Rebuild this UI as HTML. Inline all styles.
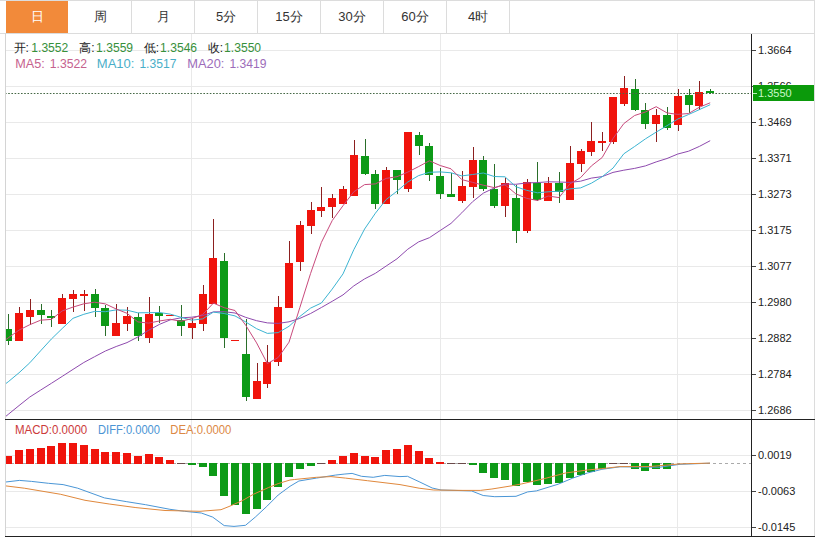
<!DOCTYPE html>
<html><head><meta charset="utf-8"><style>
html,body{margin:0;padding:0;background:#fff;width:824px;height:538px;overflow:hidden}
svg{display:block;font-family:"Liberation Sans",sans-serif}
.ax{font-size:11px;fill:#222}
.lg{font-size:12px}
.tb{font-size:13px}
</style></head><body>
<svg width="824" height="538" viewBox="0 0 824 538" shape-rendering="crispEdges">
<defs><clipPath id="cm"><rect x="6" y="34" width="745" height="385"/></clipPath><clipPath id="cd"><rect x="6" y="420" width="745" height="116"/></clipPath></defs>
<rect x="0" y="0" width="815" height="1" fill="#dcdcdc"/>
<rect x="0" y="33" width="815" height="1" fill="#dcdcdc"/>
<rect x="6" y="1" width="62" height="32" fill="#f28a3a"/>
<text x="37" y="20.5" class="tb" text-anchor="middle" fill="#fff">日</text>
<rect x="131" y="1" width="1" height="32" fill="#dcdcdc"/>
<text x="100" y="20.5" class="tb" text-anchor="middle" fill="#333">周</text>
<rect x="194" y="1" width="1" height="32" fill="#dcdcdc"/>
<text x="163" y="20.5" class="tb" text-anchor="middle" fill="#333">月</text>
<rect x="257" y="1" width="1" height="32" fill="#dcdcdc"/>
<text x="226" y="20.5" class="tb" text-anchor="middle" fill="#333">5分</text>
<rect x="320" y="1" width="1" height="32" fill="#dcdcdc"/>
<text x="289" y="20.5" class="tb" text-anchor="middle" fill="#333">15分</text>
<rect x="383" y="1" width="1" height="32" fill="#dcdcdc"/>
<text x="352" y="20.5" class="tb" text-anchor="middle" fill="#333">30分</text>
<rect x="446" y="1" width="1" height="32" fill="#dcdcdc"/>
<text x="415" y="20.5" class="tb" text-anchor="middle" fill="#333">60分</text>
<rect x="509" y="1" width="1" height="32" fill="#dcdcdc"/>
<text x="478" y="20.5" class="tb" text-anchor="middle" fill="#333">4时</text>
<rect x="131" y="1" width="1" height="32" fill="#dcdcdc"/>
<rect x="5" y="50" width="746" height="1" fill="#e9e9e9"/>
<rect x="5" y="86" width="746" height="1" fill="#e9e9e9"/>
<rect x="5" y="122" width="746" height="1" fill="#e9e9e9"/>
<rect x="5" y="158" width="746" height="1" fill="#e9e9e9"/>
<rect x="5" y="194" width="746" height="1" fill="#e9e9e9"/>
<rect x="5" y="230" width="746" height="1" fill="#e9e9e9"/>
<rect x="5" y="266" width="746" height="1" fill="#e9e9e9"/>
<rect x="5" y="302" width="746" height="1" fill="#e9e9e9"/>
<rect x="5" y="338" width="746" height="1" fill="#e9e9e9"/>
<rect x="5" y="374" width="746" height="1" fill="#e9e9e9"/>
<rect x="5" y="410" width="746" height="1" fill="#e9e9e9"/>
<rect x="5" y="455" width="746" height="1" fill="#e9e9e9"/>
<rect x="5" y="491" width="746" height="1" fill="#e9e9e9"/>
<rect x="5" y="527" width="746" height="1" fill="#e9e9e9"/>
<rect x="191" y="34" width="1" height="502" fill="#e9e9e9"/>
<rect x="440" y="34" width="1" height="502" fill="#e9e9e9"/>
<rect x="677" y="34" width="1" height="502" fill="#e9e9e9"/>
<g clip-path="url(#cm)">
<rect x="8" y="314" width="1" height="15" fill="#2a6e2a"/>
<rect x="8" y="341" width="1" height="4" fill="#2a6e2a"/>
<rect x="4" y="329" width="8" height="12" fill="#0d9a17"/>
<rect x="19" y="307" width="1" height="6" fill="#8c1f1f"/>
<rect x="15" y="313" width="8" height="28" fill="#f0140c"/>
<rect x="30" y="299" width="1" height="11" fill="#8c1f1f"/>
<rect x="30" y="317" width="1" height="8" fill="#8c1f1f"/>
<rect x="26" y="310" width="8" height="7" fill="#f0140c"/>
<rect x="41" y="304" width="1" height="6" fill="#2a6e2a"/>
<rect x="41" y="315" width="1" height="9" fill="#2a6e2a"/>
<rect x="37" y="310" width="8" height="5" fill="#0d9a17"/>
<rect x="51" y="310" width="1" height="6" fill="#2a6e2a"/>
<rect x="51" y="318" width="1" height="9" fill="#2a6e2a"/>
<rect x="47" y="316" width="8" height="2" fill="#0d9a17"/>
<rect x="62" y="294" width="1" height="4" fill="#8c1f1f"/>
<rect x="58" y="298" width="8" height="26" fill="#f0140c"/>
<rect x="73" y="290" width="1" height="4" fill="#8c1f1f"/>
<rect x="73" y="299" width="1" height="13" fill="#8c1f1f"/>
<rect x="69" y="294" width="8" height="5" fill="#f0140c"/>
<rect x="84" y="290" width="1" height="4" fill="#8c1f1f"/>
<rect x="84" y="296" width="1" height="15" fill="#8c1f1f"/>
<rect x="80" y="294" width="8" height="2" fill="#f0140c"/>
<rect x="95" y="289" width="1" height="5" fill="#2a6e2a"/>
<rect x="95" y="308" width="1" height="9" fill="#2a6e2a"/>
<rect x="91" y="294" width="8" height="14" fill="#0d9a17"/>
<rect x="105" y="305" width="1" height="3" fill="#2a6e2a"/>
<rect x="105" y="326" width="1" height="10" fill="#2a6e2a"/>
<rect x="101" y="308" width="8" height="18" fill="#0d9a17"/>
<rect x="116" y="304" width="1" height="19" fill="#8c1f1f"/>
<rect x="112" y="323" width="8" height="13" fill="#f0140c"/>
<rect x="127" y="307" width="1" height="9" fill="#8c1f1f"/>
<rect x="127" y="324" width="1" height="7" fill="#8c1f1f"/>
<rect x="123" y="316" width="8" height="8" fill="#f0140c"/>
<rect x="138" y="313" width="1" height="4" fill="#2a6e2a"/>
<rect x="138" y="336" width="1" height="5" fill="#2a6e2a"/>
<rect x="134" y="317" width="8" height="19" fill="#0d9a17"/>
<rect x="149" y="297" width="1" height="17" fill="#8c1f1f"/>
<rect x="149" y="338" width="1" height="5" fill="#8c1f1f"/>
<rect x="145" y="314" width="8" height="24" fill="#f0140c"/>
<rect x="159" y="306" width="1" height="7" fill="#2a6e2a"/>
<rect x="159" y="316" width="1" height="7" fill="#2a6e2a"/>
<rect x="155" y="313" width="8" height="3" fill="#0d9a17"/>
<rect x="166" y="315" width="8" height="1" fill="#f0140c"/>
<rect x="181" y="305" width="1" height="15" fill="#2a6e2a"/>
<rect x="181" y="326" width="1" height="10" fill="#2a6e2a"/>
<rect x="177" y="320" width="8" height="6" fill="#0d9a17"/>
<rect x="192" y="318" width="1" height="5" fill="#8c1f1f"/>
<rect x="192" y="328" width="1" height="11" fill="#8c1f1f"/>
<rect x="188" y="323" width="8" height="5" fill="#f0140c"/>
<rect x="203" y="285" width="1" height="9" fill="#8c1f1f"/>
<rect x="203" y="324" width="1" height="7" fill="#8c1f1f"/>
<rect x="199" y="294" width="8" height="30" fill="#f0140c"/>
<rect x="213" y="219" width="1" height="39" fill="#8c1f1f"/>
<rect x="209" y="258" width="8" height="46" fill="#f0140c"/>
<rect x="224" y="253" width="1" height="8" fill="#2a6e2a"/>
<rect x="224" y="338" width="1" height="10" fill="#2a6e2a"/>
<rect x="220" y="261" width="8" height="77" fill="#0d9a17"/>
<rect x="231" y="340" width="8" height="1" fill="#f0140c"/>
<rect x="246" y="319" width="1" height="35" fill="#2a6e2a"/>
<rect x="246" y="397" width="1" height="4" fill="#2a6e2a"/>
<rect x="242" y="354" width="8" height="43" fill="#0d9a17"/>
<rect x="257" y="363" width="1" height="18" fill="#8c1f1f"/>
<rect x="253" y="381" width="8" height="18" fill="#f0140c"/>
<rect x="267" y="345" width="1" height="17" fill="#8c1f1f"/>
<rect x="267" y="384" width="1" height="4" fill="#8c1f1f"/>
<rect x="263" y="362" width="8" height="22" fill="#f0140c"/>
<rect x="278" y="296" width="1" height="11" fill="#8c1f1f"/>
<rect x="278" y="362" width="1" height="4" fill="#8c1f1f"/>
<rect x="274" y="307" width="8" height="55" fill="#f0140c"/>
<rect x="289" y="241" width="1" height="22" fill="#8c1f1f"/>
<rect x="285" y="263" width="8" height="45" fill="#f0140c"/>
<rect x="300" y="221" width="1" height="4" fill="#8c1f1f"/>
<rect x="300" y="262" width="1" height="9" fill="#8c1f1f"/>
<rect x="296" y="225" width="8" height="37" fill="#f0140c"/>
<rect x="311" y="202" width="1" height="8" fill="#8c1f1f"/>
<rect x="311" y="226" width="1" height="8" fill="#8c1f1f"/>
<rect x="307" y="210" width="8" height="16" fill="#f0140c"/>
<rect x="321" y="187" width="1" height="20" fill="#8c1f1f"/>
<rect x="321" y="211" width="1" height="6" fill="#8c1f1f"/>
<rect x="317" y="207" width="8" height="4" fill="#f0140c"/>
<rect x="332" y="194" width="1" height="4" fill="#8c1f1f"/>
<rect x="332" y="207" width="1" height="11" fill="#8c1f1f"/>
<rect x="328" y="198" width="8" height="9" fill="#f0140c"/>
<rect x="343" y="186" width="1" height="3" fill="#8c1f1f"/>
<rect x="339" y="189" width="8" height="15" fill="#f0140c"/>
<rect x="354" y="140" width="1" height="15" fill="#8c1f1f"/>
<rect x="350" y="155" width="8" height="41" fill="#f0140c"/>
<rect x="365" y="139" width="1" height="17" fill="#2a6e2a"/>
<rect x="365" y="174" width="1" height="1" fill="#2a6e2a"/>
<rect x="361" y="156" width="8" height="18" fill="#0d9a17"/>
<rect x="375" y="170" width="1" height="4" fill="#2a6e2a"/>
<rect x="375" y="204" width="1" height="5" fill="#2a6e2a"/>
<rect x="371" y="174" width="8" height="30" fill="#0d9a17"/>
<rect x="386" y="167" width="1" height="3" fill="#8c1f1f"/>
<rect x="382" y="170" width="8" height="34" fill="#f0140c"/>
<rect x="397" y="180" width="1" height="14" fill="#2a6e2a"/>
<rect x="393" y="170" width="8" height="10" fill="#0d9a17"/>
<rect x="408" y="189" width="1" height="3" fill="#8c1f1f"/>
<rect x="404" y="132" width="8" height="57" fill="#f0140c"/>
<rect x="419" y="132" width="1" height="3" fill="#2a6e2a"/>
<rect x="419" y="146" width="1" height="9" fill="#2a6e2a"/>
<rect x="415" y="135" width="8" height="11" fill="#0d9a17"/>
<rect x="429" y="143" width="1" height="3" fill="#2a6e2a"/>
<rect x="429" y="175" width="1" height="6" fill="#2a6e2a"/>
<rect x="425" y="146" width="8" height="29" fill="#0d9a17"/>
<rect x="440" y="168" width="1" height="8" fill="#2a6e2a"/>
<rect x="440" y="194" width="1" height="5" fill="#2a6e2a"/>
<rect x="436" y="176" width="8" height="18" fill="#0d9a17"/>
<rect x="451" y="173" width="1" height="21" fill="#2a6e2a"/>
<rect x="447" y="194" width="8" height="3" fill="#0d9a17"/>
<rect x="462" y="171" width="1" height="15" fill="#8c1f1f"/>
<rect x="462" y="201" width="1" height="2" fill="#8c1f1f"/>
<rect x="458" y="186" width="8" height="15" fill="#f0140c"/>
<rect x="473" y="147" width="1" height="13" fill="#8c1f1f"/>
<rect x="473" y="187" width="1" height="11" fill="#8c1f1f"/>
<rect x="469" y="160" width="8" height="27" fill="#f0140c"/>
<rect x="483" y="156" width="1" height="4" fill="#2a6e2a"/>
<rect x="483" y="189" width="1" height="2" fill="#2a6e2a"/>
<rect x="479" y="160" width="8" height="29" fill="#0d9a17"/>
<rect x="494" y="164" width="1" height="25" fill="#2a6e2a"/>
<rect x="494" y="206" width="1" height="2" fill="#2a6e2a"/>
<rect x="490" y="189" width="8" height="17" fill="#0d9a17"/>
<rect x="505" y="178" width="1" height="5" fill="#8c1f1f"/>
<rect x="505" y="206" width="1" height="11" fill="#8c1f1f"/>
<rect x="501" y="183" width="8" height="23" fill="#f0140c"/>
<rect x="516" y="185" width="1" height="13" fill="#2a6e2a"/>
<rect x="516" y="231" width="1" height="12" fill="#2a6e2a"/>
<rect x="512" y="198" width="8" height="33" fill="#0d9a17"/>
<rect x="527" y="179" width="1" height="3" fill="#8c1f1f"/>
<rect x="527" y="231" width="1" height="2" fill="#8c1f1f"/>
<rect x="523" y="182" width="8" height="49" fill="#f0140c"/>
<rect x="537" y="162" width="1" height="21" fill="#2a6e2a"/>
<rect x="537" y="200" width="1" height="1" fill="#2a6e2a"/>
<rect x="533" y="183" width="8" height="17" fill="#0d9a17"/>
<rect x="548" y="177" width="1" height="6" fill="#8c1f1f"/>
<rect x="544" y="183" width="8" height="18" fill="#f0140c"/>
<rect x="559" y="172" width="1" height="11" fill="#2a6e2a"/>
<rect x="559" y="192" width="1" height="11" fill="#2a6e2a"/>
<rect x="555" y="183" width="8" height="9" fill="#0d9a17"/>
<rect x="570" y="146" width="1" height="17" fill="#8c1f1f"/>
<rect x="566" y="163" width="8" height="37" fill="#f0140c"/>
<rect x="581" y="149" width="1" height="2" fill="#8c1f1f"/>
<rect x="581" y="164" width="1" height="8" fill="#8c1f1f"/>
<rect x="577" y="151" width="8" height="13" fill="#f0140c"/>
<rect x="591" y="122" width="1" height="19" fill="#8c1f1f"/>
<rect x="591" y="152" width="1" height="4" fill="#8c1f1f"/>
<rect x="587" y="141" width="8" height="11" fill="#f0140c"/>
<rect x="602" y="132" width="1" height="9" fill="#8c1f1f"/>
<rect x="602" y="143" width="1" height="8" fill="#8c1f1f"/>
<rect x="598" y="141" width="8" height="2" fill="#f0140c"/>
<rect x="613" y="142" width="1" height="2" fill="#8c1f1f"/>
<rect x="609" y="97" width="8" height="45" fill="#f0140c"/>
<rect x="624" y="76" width="1" height="12" fill="#8c1f1f"/>
<rect x="624" y="104" width="1" height="2" fill="#8c1f1f"/>
<rect x="620" y="88" width="8" height="16" fill="#f0140c"/>
<rect x="635" y="79" width="1" height="10" fill="#2a6e2a"/>
<rect x="635" y="110" width="1" height="1" fill="#2a6e2a"/>
<rect x="631" y="89" width="8" height="21" fill="#0d9a17"/>
<rect x="645" y="103" width="1" height="7" fill="#2a6e2a"/>
<rect x="645" y="124" width="1" height="5" fill="#2a6e2a"/>
<rect x="641" y="110" width="8" height="14" fill="#0d9a17"/>
<rect x="656" y="109" width="1" height="6" fill="#8c1f1f"/>
<rect x="656" y="124" width="1" height="18" fill="#8c1f1f"/>
<rect x="652" y="115" width="8" height="9" fill="#f0140c"/>
<rect x="667" y="107" width="1" height="8" fill="#2a6e2a"/>
<rect x="667" y="128" width="1" height="2" fill="#2a6e2a"/>
<rect x="663" y="115" width="8" height="13" fill="#0d9a17"/>
<rect x="678" y="89" width="1" height="7" fill="#8c1f1f"/>
<rect x="678" y="125" width="1" height="6" fill="#8c1f1f"/>
<rect x="674" y="96" width="8" height="29" fill="#f0140c"/>
<rect x="689" y="89" width="1" height="6" fill="#2a6e2a"/>
<rect x="689" y="105" width="1" height="8" fill="#2a6e2a"/>
<rect x="685" y="95" width="8" height="10" fill="#0d9a17"/>
<rect x="699" y="81" width="1" height="11" fill="#8c1f1f"/>
<rect x="699" y="106" width="1" height="4" fill="#8c1f1f"/>
<rect x="695" y="92" width="8" height="14" fill="#f0140c"/>
<rect x="710" y="89" width="1" height="2" fill="#2a6e2a"/>
<rect x="710" y="93" width="1" height="1" fill="#2a6e2a"/>
<rect x="706" y="91" width="8" height="2" fill="#0d9a17"/>
</g>
<g clip-path="url(#cm)" fill="none" stroke-width="1" shape-rendering="geometricPrecision">
<polyline points="5.0,417.0 8.2,414.4 19.0,405.6 29.8,397.0 40.6,390.1 51.4,383.3 62.2,376.4 73.0,369.4 83.8,362.5 94.6,356.7 105.4,351.0 116.2,346.5 127.0,342.6 137.8,337.0 148.6,330.3 159.4,324.4 170.2,319.9 181.0,317.8 191.8,317.2 202.6,315.6 213.4,311.9 224.2,311.7 235.0,313.0 245.8,317.4 256.6,320.7 267.4,322.9 278.2,323.4 289.0,321.8 299.8,318.4 310.6,313.5 321.4,307.5 332.2,301.3 343.0,294.9 353.8,285.9 364.6,278.9 375.4,273.3 386.2,266.0 397.0,258.8 407.8,249.2 418.6,241.9 429.4,237.7 440.2,230.5 451.0,223.4 461.8,212.8 472.6,201.7 483.4,193.1 494.2,188.0 505.0,184.0 515.8,184.3 526.6,182.9 537.4,182.6 548.2,181.8 559.0,182.0 569.8,182.4 580.6,181.2 591.4,178.1 602.2,176.6 613.0,172.4 623.8,170.2 634.6,168.4 645.4,165.9 656.2,161.9 667.0,158.5 677.8,154.0 688.6,151.2 699.4,146.4 710.2,140.7" stroke="#8e4aae"/>
<polyline points="5.0,384.2 8.2,381.8 19.0,372.8 29.8,362.8 40.6,350.8 51.4,339.0 62.2,328.5 73.0,318.3 83.8,314.3 94.6,311.4 105.4,311.7 116.2,309.9 127.0,310.2 137.8,312.8 148.6,312.7 159.4,312.5 170.2,314.1 181.0,317.3 191.8,320.2 202.6,318.9 213.4,312.1 224.2,313.5 235.0,315.9 245.8,322.0 256.6,328.7 267.4,333.4 278.2,332.6 289.0,326.3 299.8,316.5 310.6,308.1 321.4,303.0 332.2,289.1 343.0,273.9 353.8,249.7 364.6,229.0 375.4,213.2 386.2,199.5 397.0,191.2 407.8,182.0 418.6,175.6 429.4,172.3 440.2,171.9 451.0,172.8 461.8,175.9 472.6,174.5 483.4,173.0 494.2,176.5 505.0,176.8 515.8,186.7 526.6,190.3 537.4,192.8 548.2,191.8 559.0,191.2 569.8,188.9 580.6,187.9 591.4,183.2 602.2,176.7 613.0,168.1 623.8,153.8 634.6,146.5 645.4,138.9 656.2,132.1 667.0,125.7 677.8,119.0 688.6,114.5 699.4,109.6 710.2,104.7" stroke="#3cb4d2"/>
<polyline points="5.0,340.2 8.2,337.9 19.0,330.1 29.8,324.7 40.6,320.2 51.4,319.4 62.2,310.9 73.0,307.1 83.8,303.8 94.6,302.2 105.4,303.9 116.2,309.0 127.0,313.3 137.8,321.9 148.6,323.1 159.4,321.0 170.2,319.3 181.0,321.3 191.8,318.6 202.6,314.6 213.4,303.1 224.2,307.7 235.0,310.5 245.8,325.4 256.6,342.9 267.4,363.6 278.2,357.5 289.0,342.2 299.8,307.7 310.6,273.4 321.4,242.4 332.2,220.6 343.0,205.7 353.8,191.8 364.6,184.6 375.4,183.9 386.2,178.4 397.0,176.7 407.8,172.1 418.6,166.6 429.4,160.8 440.2,165.5 451.0,168.8 461.8,179.6 472.6,182.4 483.4,185.2 494.2,187.6 505.0,184.8 515.8,193.8 526.6,198.3 537.4,200.5 548.2,196.0 559.0,197.6 569.8,184.0 580.6,177.6 591.4,165.9 602.2,157.5 613.0,138.5 623.8,123.6 634.6,115.5 645.4,112.0 656.2,106.7 667.0,112.9 677.8,114.4 688.6,113.5 699.4,107.2 710.2,102.8" stroke="#c84a7c"/>
</g>
<line x1="5" y1="93.5" x2="751" y2="93.5" stroke="#456845" stroke-width="1" stroke-dasharray="1.6,1.6" shape-rendering="geometricPrecision"/>
<line x1="5" y1="463.5" x2="751" y2="463.5" stroke="#aaaaaa" stroke-width="1" stroke-dasharray="3,3"/>
<g clip-path="url(#cd)">
<rect x="4" y="456" width="8" height="8" fill="#f0140c"/>
<rect x="15" y="450" width="8" height="14" fill="#f0140c"/>
<rect x="26" y="449" width="8" height="15" fill="#f0140c"/>
<rect x="37" y="448" width="8" height="16" fill="#f0140c"/>
<rect x="47" y="446" width="8" height="18" fill="#f0140c"/>
<rect x="58" y="443" width="8" height="21" fill="#f0140c"/>
<rect x="69" y="443" width="8" height="21" fill="#f0140c"/>
<rect x="80" y="445" width="8" height="19" fill="#f0140c"/>
<rect x="91" y="449" width="8" height="15" fill="#f0140c"/>
<rect x="101" y="452" width="8" height="12" fill="#f0140c"/>
<rect x="112" y="452" width="8" height="12" fill="#f0140c"/>
<rect x="123" y="453" width="8" height="11" fill="#f0140c"/>
<rect x="134" y="456" width="8" height="8" fill="#f0140c"/>
<rect x="145" y="454" width="8" height="10" fill="#f0140c"/>
<rect x="155" y="457" width="8" height="7" fill="#f0140c"/>
<rect x="166" y="460" width="8" height="4" fill="#f0140c"/>
<rect x="177" y="463" width="8" height="1" fill="#6b4a4a"/>
<rect x="188" y="463" width="8" height="2" fill="#0d9a17"/>
<rect x="199" y="463" width="8" height="4" fill="#0d9a17"/>
<rect x="209" y="463" width="8" height="13" fill="#0d9a17"/>
<rect x="220" y="463" width="8" height="33" fill="#0d9a17"/>
<rect x="231" y="463" width="8" height="42" fill="#0d9a17"/>
<rect x="242" y="463" width="8" height="51" fill="#0d9a17"/>
<rect x="253" y="463" width="8" height="46" fill="#0d9a17"/>
<rect x="263" y="463" width="8" height="37" fill="#0d9a17"/>
<rect x="274" y="463" width="8" height="24" fill="#0d9a17"/>
<rect x="285" y="463" width="8" height="14" fill="#0d9a17"/>
<rect x="296" y="463" width="8" height="6" fill="#0d9a17"/>
<rect x="307" y="463" width="8" height="3" fill="#0d9a17"/>
<rect x="317" y="463" width="8" height="1" fill="#6b4a4a"/>
<rect x="328" y="460" width="8" height="4" fill="#f0140c"/>
<rect x="339" y="456" width="8" height="8" fill="#f0140c"/>
<rect x="350" y="453" width="8" height="11" fill="#f0140c"/>
<rect x="361" y="456" width="8" height="8" fill="#f0140c"/>
<rect x="371" y="457" width="8" height="7" fill="#f0140c"/>
<rect x="382" y="450" width="8" height="14" fill="#f0140c"/>
<rect x="393" y="449" width="8" height="15" fill="#f0140c"/>
<rect x="404" y="445" width="8" height="19" fill="#f0140c"/>
<rect x="415" y="451" width="8" height="13" fill="#f0140c"/>
<rect x="425" y="458" width="8" height="6" fill="#f0140c"/>
<rect x="436" y="462" width="8" height="2" fill="#f0140c"/>
<rect x="447" y="463" width="8" height="1" fill="#6b4a4a"/>
<rect x="458" y="463" width="8" height="1" fill="#6b4a4a"/>
<rect x="469" y="463" width="8" height="2" fill="#0d9a17"/>
<rect x="479" y="463" width="8" height="10" fill="#0d9a17"/>
<rect x="490" y="463" width="8" height="15" fill="#0d9a17"/>
<rect x="501" y="463" width="8" height="17" fill="#0d9a17"/>
<rect x="512" y="463" width="8" height="23" fill="#0d9a17"/>
<rect x="523" y="463" width="8" height="19" fill="#0d9a17"/>
<rect x="533" y="463" width="8" height="22" fill="#0d9a17"/>
<rect x="544" y="463" width="8" height="21" fill="#0d9a17"/>
<rect x="555" y="463" width="8" height="20" fill="#0d9a17"/>
<rect x="566" y="463" width="8" height="15" fill="#0d9a17"/>
<rect x="577" y="463" width="8" height="12" fill="#0d9a17"/>
<rect x="587" y="463" width="8" height="9" fill="#0d9a17"/>
<rect x="598" y="463" width="8" height="6" fill="#0d9a17"/>
<rect x="609" y="463" width="8" height="1" fill="#6b4a4a"/>
<rect x="620" y="463" width="8" height="1" fill="#6b4a4a"/>
<rect x="631" y="463" width="8" height="6" fill="#0d9a17"/>
<rect x="641" y="463" width="8" height="8" fill="#0d9a17"/>
<rect x="652" y="463" width="8" height="6" fill="#0d9a17"/>
<rect x="663" y="463" width="8" height="6" fill="#0d9a17"/>
</g>
<g clip-path="url(#cd)" fill="none" stroke-width="1" shape-rendering="geometricPrecision">
<polyline points="5.0,482.1 19.4,480.4 31.6,481.4 48.5,483.3 63.1,484.6 77.7,488.2 104.4,497.9 126.2,501.6 145.6,504.7 169.9,509.3 184.5,511.3 201.3,513.0 212.7,517.1 224.2,525.6 234.0,526.4 245.5,525.3 255.3,517.1 266.7,506.5 278.2,495.0 290.0,486.3 298.9,481.0 316.4,478.1 335.3,475.1 344.1,474.1 352.1,473.4 361.5,476.3 373.2,477.3 384.8,475.4 400.0,476.6 407.5,476.3 419.1,481.7 432.2,488.0 441.0,490.0 471.5,490.9 483.2,495.5 494.8,496.7 516.0,496.3 527.7,491.9 536.4,490.9 558.2,484.2 572.8,478.1 587.4,473.0 601.9,469.3 620.0,466.8 660.0,467.2 680.0,464.3 710.0,463.2" stroke="#4a96d6"/>
<polyline points="5.0,485.8 24.3,488.2 60.7,494.3 85.0,500.3 109.2,504.0 135.9,507.6 165.0,510.5 200.0,511.3 221.0,509.7 229.0,506.5 242.2,500.7 253.6,494.2 268.4,487.6 278.2,483.6 290.0,480.0 294.6,479.5 316.4,477.3 331.0,476.6 345.5,478.1 367.4,480.7 400.0,484.6 419.1,488.2 433.7,490.0 462.8,490.4 480.3,490.4 491.9,489.0 510.0,486.1 521.8,483.9 543.7,478.8 565.5,473.0 587.4,470.0 601.9,468.6 620.0,466.6 650.0,466.5 680.0,463.9 710.0,463.1" stroke="#e0883c"/>
</g>
<rect x="5" y="33" width="1" height="504" fill="#d4d4d4"/>
<rect x="814" y="0" width="1" height="537" fill="#dcdcdc"/>
<rect x="751" y="34" width="1" height="503" fill="#222"/>
<rect x="5" y="419" width="810" height="1" fill="#222"/>
<rect x="5" y="536" width="810" height="1" fill="#222"/>
<rect x="752" y="50" width="4" height="1" fill="#444"/>
<text x="758" y="54" class="ax">1.3664</text>
<rect x="752" y="86" width="4" height="1" fill="#444"/>
<text x="758" y="90" class="ax">1.3566</text>
<rect x="752" y="122" width="4" height="1" fill="#444"/>
<text x="758" y="126" class="ax">1.3469</text>
<rect x="752" y="158" width="4" height="1" fill="#444"/>
<text x="758" y="162" class="ax">1.3371</text>
<rect x="752" y="194" width="4" height="1" fill="#444"/>
<text x="758" y="198" class="ax">1.3273</text>
<rect x="752" y="230" width="4" height="1" fill="#444"/>
<text x="758" y="234" class="ax">1.3175</text>
<rect x="752" y="266" width="4" height="1" fill="#444"/>
<text x="758" y="270" class="ax">1.3077</text>
<rect x="752" y="302" width="4" height="1" fill="#444"/>
<text x="758" y="306" class="ax">1.2980</text>
<rect x="752" y="338" width="4" height="1" fill="#444"/>
<text x="758" y="342" class="ax">1.2882</text>
<rect x="752" y="374" width="4" height="1" fill="#444"/>
<text x="758" y="378" class="ax">1.2784</text>
<rect x="752" y="410" width="4" height="1" fill="#444"/>
<text x="758" y="414" class="ax">1.2686</text>
<rect x="752" y="455" width="4" height="1" fill="#444"/>
<text x="758" y="459" class="ax">0.0019</text>
<rect x="752" y="491" width="4" height="1" fill="#444"/>
<text x="758" y="495" class="ax">-0.0063</text>
<rect x="752" y="527" width="4" height="1" fill="#444"/>
<text x="758" y="531" class="ax">-0.0145</text>
<rect x="753" y="85" width="61" height="16" fill="#0b9a0b"/>
<rect x="753" y="93" width="4" height="1" fill="#b8f0b8"/>
<text x="758" y="97" class="ax" style="fill:#c8f8c8">1.3550</text>
<text x="13.5" y="51.5" class="lg" fill="#222">开:</text>
<text x="31.3" y="51.5" class="lg" fill="#37903a" textLength="37" lengthAdjust="spacingAndGlyphs">1.3552</text>
<text x="79.2" y="51.5" class="lg" fill="#222">高:</text>
<text x="96.1" y="51.5" class="lg" fill="#37903a" textLength="37" lengthAdjust="spacingAndGlyphs">1.3559</text>
<text x="143.8" y="51.5" class="lg" fill="#222">低:</text>
<text x="160.1" y="51.5" class="lg" fill="#37903a" textLength="37" lengthAdjust="spacingAndGlyphs">1.3546</text>
<text x="207.7" y="51.5" class="lg" fill="#222">收:</text>
<text x="224.1" y="51.5" class="lg" fill="#37903a" textLength="37" lengthAdjust="spacingAndGlyphs">1.3550</text>
<text x="15.2" y="68" class="lg" fill="#c6628e" textLength="29.5" lengthAdjust="spacingAndGlyphs">MA5:</text>
<text x="49.7" y="68" class="lg" fill="#c6628e" textLength="37.4" lengthAdjust="spacingAndGlyphs">1.3522</text>
<text x="96.8" y="68" class="lg" fill="#48aec8" textLength="37.6" lengthAdjust="spacingAndGlyphs">MA10:</text>
<text x="139.4" y="68" class="lg" fill="#48aec8" textLength="37.0" lengthAdjust="spacingAndGlyphs">1.3517</text>
<text x="187.3" y="68" class="lg" fill="#9c6cba" textLength="37.1" lengthAdjust="spacingAndGlyphs">MA20:</text>
<text x="229.4" y="68" class="lg" fill="#9c6cba" textLength="37.0" lengthAdjust="spacingAndGlyphs">1.3419</text>
<text x="15.0" y="433.5" class="lg" fill="#cc3a3a" textLength="72.2" lengthAdjust="spacingAndGlyphs">MACD:0.0000</text>
<text x="98.0" y="433.5" class="lg" fill="#4a94d4" textLength="62.0" lengthAdjust="spacingAndGlyphs">DIFF:0.0000</text>
<text x="170.3" y="433.5" class="lg" fill="#dc8844" textLength="61.1" lengthAdjust="spacingAndGlyphs">DEA:0.0000</text>
</svg></body></html>
